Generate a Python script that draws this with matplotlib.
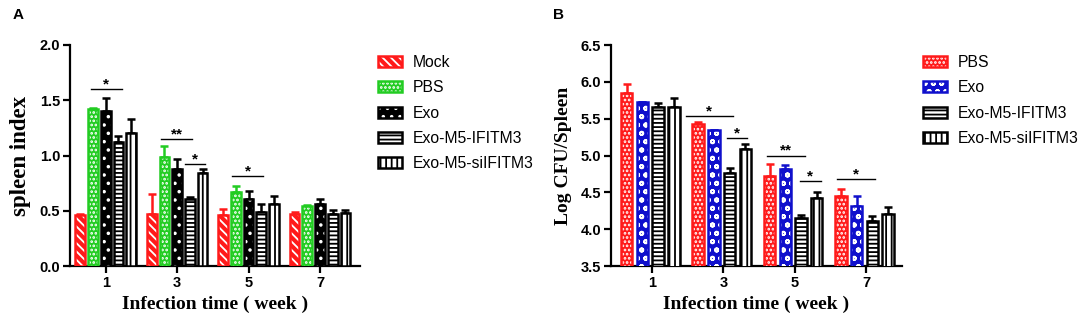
import matplotlib
matplotlib.use("Agg")
import matplotlib.pyplot as plt
import numpy as np
from matplotlib.patches import Patch

# ---- data ----
weeks = [1, 3, 5, 7]

groups_a = ["Mock", "PBS", "Exo", "Exo-M5-IFITM3", "Exo-M5-siIFITM3"]
mean_a = [
    [0.46, 0.47, 0.46, 0.47],
    [1.42, 0.99, 0.67, 0.54],
    [1.40, 0.88, 0.61, 0.56],
    [1.12, 0.61, 0.49, 0.47],
    [1.20, 0.84, 0.56, 0.48],
]
err_a = [
    [0.01, 0.18, 0.06, 0.02],
    [0.01, 0.10, 0.05, 0.01],
    [0.12, 0.09, 0.07, 0.05],
    [0.06, 0.01, 0.07, 0.04],
    [0.13, 0.04, 0.07, 0.03],
]

groups_b = ["PBS", "Exo", "Exo-M5-IFITM3", "Exo-M5-siIFITM3"]
mean_b = [
    [5.85, 5.43, 4.72, 4.45],
    [5.72, 5.34, 4.81, 4.31],
    [5.66, 4.76, 4.15, 4.11],
    [5.66, 5.09, 4.42, 4.21],
]
err_b = [
    [0.12, 0.03, 0.16, 0.09],
    [0.01, 0.01, 0.06, 0.14],
    [0.05, 0.07, 0.04, 0.07],
    [0.12, 0.07, 0.08, 0.09],
]

# significance brackets: (x start, x end, y, label)
sig_a = [(0.58, 1.45, 1.60, "*"), (2.56, 3.42, 1.15, "**"),
         (3.23, 3.79, 0.92, "*"), (4.54, 5.41, 0.81, "*")]
sig_b = [(1.94, 3.26, 5.53, "*"), (3.10, 3.66, 5.24, "*"),
         (4.21, 5.27, 5.00, "**"), (5.13, 5.73, 4.65, "*"),
         (6.17, 7.23, 4.68, "*")]

# styles: (face, hatch colour, hatch, outline colour)
style_a = [("#ff1a1a", "white", "\\\\\\\\", "#ff1a1a"),
           ("#22cc22", "white", "....", "#22cc22"),
           ("black", "white", "..", "black"),
           ("white", "black", "----", "black"),
           ("white", "black", "|||", "black")]
style_b = [("#ff1a1a", "white", "....", "#ff1a1a"),
           ("#1010cc", "white", "oo", "#1010cc"),
           ("white", "black", "----", "black"),
           ("white", "black", "|||", "black")]

plt.rcParams["hatch.linewidth"] = 1.3
tick_font = {"family": "Liberation Sans", "weight": "bold", "size": 10.5}
label_font = {"family": "Liberation Serif", "weight": "bold", "size": 14}

fig = plt.figure(figsize=(10.84, 3.25), dpi=100)
ax_a = fig.add_axes([70 / 1084, 59 / 325, 290 / 1084, 221 / 325])
ax_b = fig.add_axes([611 / 1084, 59 / 325, 291 / 1084, 221 / 325])


def draw(ax, means, errs, styles, spacing, width, shift=0.0):
    n = len(means)
    x = np.array(weeks, dtype=float) + shift
    handles = []
    for i in range(n):
        face, hcol, hatch, edge = styles[i]
        xi = x + (i - (n - 1) / 2) * spacing
        ax.errorbar(xi, means[i], yerr=[np.zeros(4), errs[i]], fmt="none",
                    ecolor=edge, elinewidth=1.8, capsize=3, capthick=1.8, zorder=2)
        ax.bar(xi, means[i], width, color=face, edgecolor=hcol, hatch=hatch,
               linewidth=0, zorder=3)
        ax.bar(xi, means[i], width, fill=False, edgecolor=edge, linewidth=1.8, zorder=4)
        handles.append((Patch(facecolor=face, edgecolor=hcol, hatch=hatch, linewidth=0),
                        Patch(fill=False, edgecolor=edge, linewidth=1.8)))
    return handles


def style_axes(ax, ylim, yticks, ylabel, ysize):
    ax.set_ylim(*ylim)
    ax.set_yticks(yticks)
    ax.set_yticklabels([f"{t:.1f}" for t in yticks], fontdict=tick_font)
    ax.set_xticks(weeks)
    ax.set_xticklabels([str(w) for w in weeks], fontdict=tick_font)
    for s in ["top", "right"]:
        ax.spines[s].set_visible(False)
    for s in ["left", "bottom"]:
        ax.spines[s].set_linewidth(1.6)
    ax.tick_params(direction="out", length=5, width=1.6, pad=2)
    ax.set_xlabel("Infection time ( week )", fontdict=label_font, labelpad=4)
    ax.set_ylabel(ylabel, fontdict=dict(label_font, size=ysize), labelpad=6)


def draw_sig(ax, sigs, dy):
    for x0, x1, y, lab in sigs:
        ax.plot([x0, x1], [y, y], color="black", lw=1, zorder=5)
        ax.text((x0 + x1) / 2, y + dy, lab, ha="center", va="bottom",
                fontsize=11, fontweight="bold", family="Liberation Sans")


h_a = draw(ax_a, mean_a, err_a, style_a, 0.356, 0.27)
ax_a.set_xlim(0, 8.12)
style_axes(ax_a, (0, 2.0), np.arange(0, 2.01, 0.5), "spleen index", 16.5)
draw_sig(ax_a, sig_a, -0.02)

h_b = draw(ax_b, mean_b, err_b, style_b, 0.44, 0.32, shift=-0.05)
ax_b.set_xlim(-0.15, 8.0)
style_axes(ax_b, (3.5, 6.5), np.arange(3.5, 6.51, 0.5), "Log CFU/Spleen", 14)
draw_sig(ax_b, sig_b, -0.03)

leg_kw = dict(loc="upper left", frameon=False, handlelength=1.5, handleheight=0.7,
              handletextpad=0.72, labelspacing=0.66, borderpad=0, borderaxespad=0,
              prop={"family": "Liberation Sans", "size": 11.3})
fig.legend(h_a, groups_a, bbox_to_anchor=(378 / 1084, 1 - 55 / 325), **leg_kw)
fig.legend(h_b, groups_b, bbox_to_anchor=(923 / 1084, 1 - 55 / 325), **leg_kw)

fig.text(13 / 1084, 1 - 8 / 325, "A", fontsize=11, fontweight="bold",
         family="Liberation Sans", va="top")
fig.text(553 / 1084, 1 - 8 / 325, "B", fontsize=11, fontweight="bold",
         family="Liberation Sans", va="top")

fig.savefig("out.png", dpi=100)
